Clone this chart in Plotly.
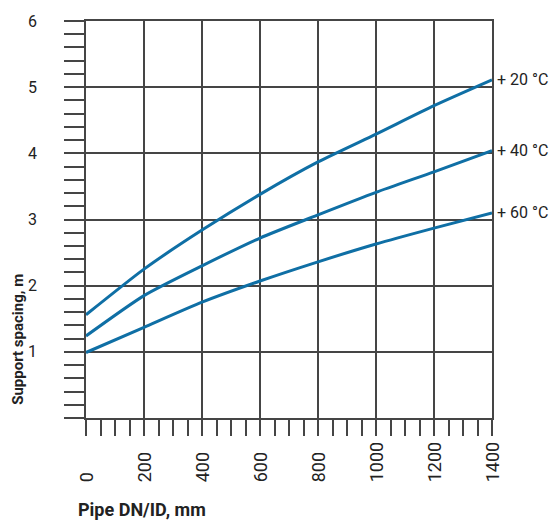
import plotly.graph_objects as go

# Data
dn = [0, 200, 400, 600, 800, 1000, 1200, 1400]
t20 = [1.56, 2.25, 2.84, 3.38, 3.87, 4.29, 4.72, 5.11]
t40 = [1.24, 1.85, 2.30, 2.72, 3.07, 3.41, 3.72, 4.04]
t60 = [0.99, 1.37, 1.75, 2.07, 2.36, 2.63, 2.87, 3.10]
series = [("+ 20 °C", t20), ("+ 40 °C", t40), ("+ 60 °C", t60)]

x_ticks = [0, 200, 400, 600, 800, 1000, 1200, 1400]
x_tick_labels = ["0", "200", "400", "600", "800", "1000", "1200", "1400"]
y_ticks = [0, 1, 2, 3, 4, 5, 6]
y_tick_labels = ["", "1", "2", "3", "4", "5", "6"]

LINE = "#0f6fa5"
GRID = "#454545"
FONT = "Roboto"

fig = go.Figure()
for name, vals in series:
    fig.add_trace(go.Scatter(x=dn, y=vals, mode="lines", name=name,
                             line=dict(color=LINE, width=3, shape="spline", smoothing=0.6),
                             showlegend=False, hoverinfo="skip"))

annotations = []
for name, vals in series:
    annotations.append(dict(x=dn[-1], y=vals[-1], xref="x", yref="y", text=name,
                            showarrow=False, xanchor="left", yanchor="middle", xshift=3,
                            font=dict(family=FONT, size=16, color="#222")))
for v, t in zip(x_ticks, x_tick_labels):
    annotations.append(dict(x=v, y=-0.167, xref="x", yref="paper", text=t, textangle=-90,
                            showarrow=False, xanchor="center", yanchor="bottom",
                            font=dict(family=FONT, size=18, color="#222")))
annotations.append(dict(x=-0.168, y=0.199, xref="paper", yref="paper",
                        text="<b>Support spacing, m</b>", textangle=-90, showarrow=False,
                        xanchor="center", yanchor="middle",
                        font=dict(family=FONT, size=15, color="#222")))
annotations.append(dict(x=-0.0247, y=-0.231, xref="paper", yref="paper",
                        text="<b>Pipe DN/ID, mm</b>", showarrow=False,
                        xanchor="left", yanchor="middle",
                        font=dict(family=FONT, size=18, color="#222")))

fig.update_layout(
    width=556, height=521,
    margin=dict(l=86, r=64, t=16, b=103),
    paper_bgcolor="white", plot_bgcolor="white",
    annotations=annotations,
    xaxis=dict(range=[0, 1400], tickmode="array", tickvals=x_ticks, showticklabels=False,
               ticks="outside", ticklen=16, tickwidth=1.5, tickcolor=GRID,
               showgrid=True, gridcolor=GRID, gridwidth=1.5,
               showline=True, linecolor=GRID, linewidth=1.5, mirror=True,
               zeroline=False,
               minor=dict(dtick=50, tick0=0, ticks="outside", ticklen=16, tickwidth=1.5,
                          tickcolor=GRID, showgrid=False)),
    yaxis=dict(range=[0, 6], tickmode="array", tickvals=y_ticks, ticktext=y_tick_labels,
               ticks="outside", ticklen=20, tickwidth=1.5, tickcolor=GRID,
               ticklabelstandoff=24,
               tickfont=dict(family=FONT, size=16, color="#222"),
               showgrid=True, gridcolor=GRID, gridwidth=1.5,
               showline=True, linecolor=GRID, linewidth=1.5, mirror=True,
               zeroline=False,
               minor=dict(dtick=0.2, tick0=0, ticks="outside", ticklen=20, tickwidth=1.5,
                          tickcolor=GRID, showgrid=False)),
)

fig.write_html("out.html", config={"displayModeBar": False},
               post_script="document.body.style.margin='0';document.body.style.padding='0';")
